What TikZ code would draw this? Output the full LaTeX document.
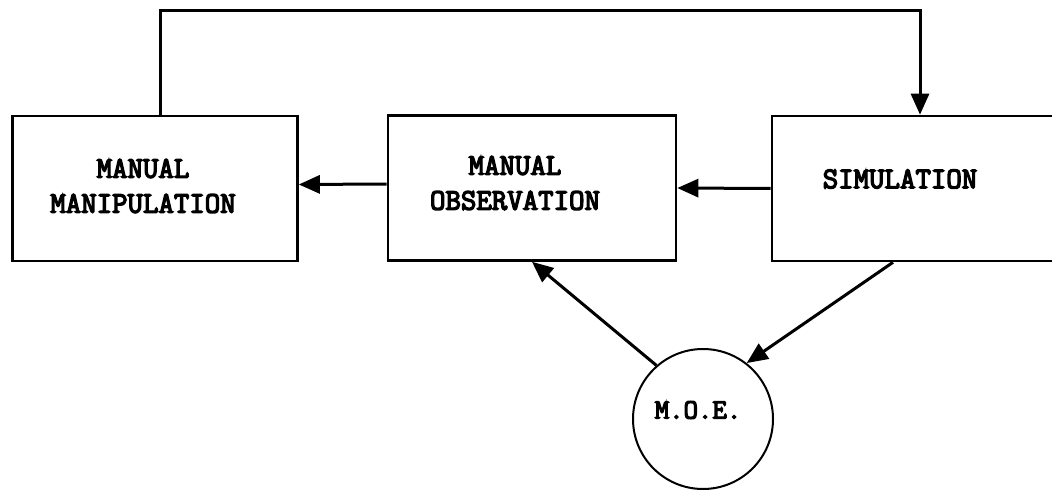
\documentclass[tikz,border=0pt]{standalone}
\usepackage{fontspec}
\newfontfamily\typew[FakeBold=4.5]{Latin Modern Mono}
\usetikzlibrary{arrows.meta}
\begin{document}
\begin{tikzpicture}[x=1pt,y=-1pt,
  box/.style={draw,line width=2.6pt,minimum width=#1,minimum height=145pt,inner sep=0pt},
  lbl/.style={font=\fontsize{30}{35}\selectfont\typew,align=center,inner sep=0pt},
  conn/.style={line width=3pt,-{Triangle[length=21pt,width=18pt]}},
]
\useasboundingbox (0,0) rectangle (1052,492);
\node[box=285pt] (mm) at (155,188.5) {};
\node[box=288pt] (mo) at (532,188) {};
\node[box=298pt] (sim) at (921,188.5) {};
\node[draw,circle,line width=2pt,minimum size=140pt,inner sep=0pt] (moe) at (703,419) {};
\node[lbl] (mmt) at (143,186) {MANUAL\\MANIPULATION};
\node[lbl] (mot) at (515,183) {MANUAL\\OBSERVATION};
\node[lbl] (simt) at (900,179) {SIMULATION};
\node[lbl,font=\fontsize{28}{30}\selectfont\typew] (moet) at (698,410) {M.O.E.};
\draw[conn] ([xshift=5pt]mm.north) -- ++(0,-104) -| ([xshift=-1pt]sim.north);
\draw[conn] (sim.west) -- (mo.east);
\draw[conn] ([yshift=4pt]mo.west) -- ([yshift=4pt]mm.east);
\draw[conn] (moe.131) -- (mo.south);
\draw[conn] ([xshift=-28pt]sim.south) -- (moe.52);
\end{tikzpicture}
\end{document}
